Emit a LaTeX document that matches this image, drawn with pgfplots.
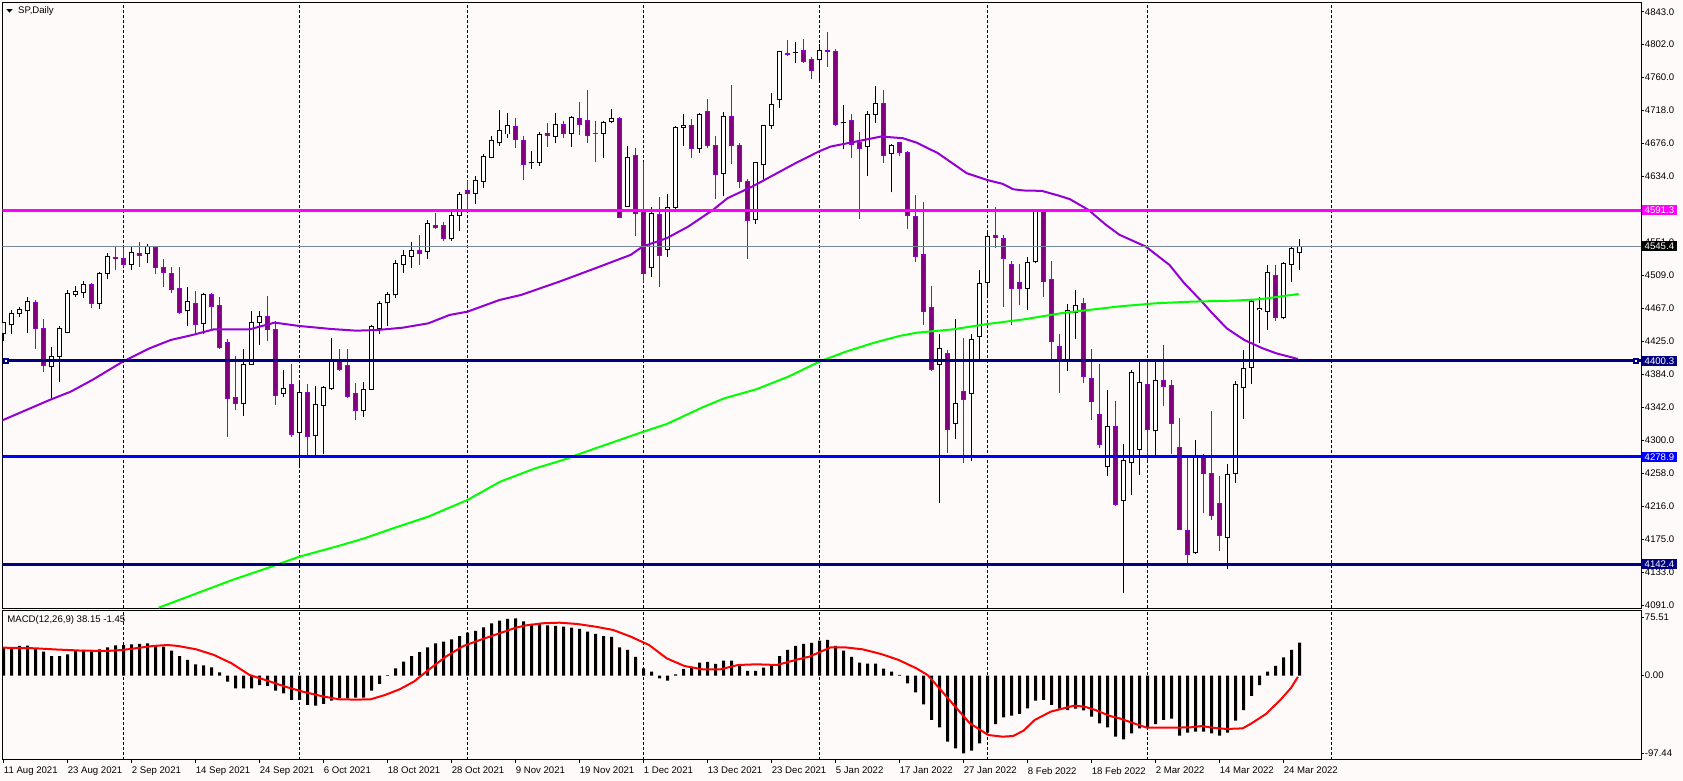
\documentclass[border=0pt]{standalone}
\usepackage{pgfplots}
\pgfplotsset{compat=1.18}
\usepackage{pgfplotstable}
\usepackage{fontspec}
\setmainfont{Liberation Sans}
\definecolor{bg}{HTML}{FFFAFA}
\definecolor{mtpurple}{HTML}{800080}
\definecolor{mtviolet}{HTML}{9400D3}
\definecolor{mtmagenta}{HTML}{FF00FF}
\definecolor{mtnavy}{HTML}{000080}
\definecolor{mtblue}{HTML}{0000FF}
\definecolor{mtgreen}{HTML}{00FF00}
\definecolor{mtgrey}{HTML}{778899}
\newcommand\tf{\fontsize{4.8}{5.5}\selectfont}

% bullish candles: index open high low close
\pgfplotstableread{
i o h l c
0 4435 4450 4426 4449
1 4446 4465 4435 4461
2 4460 4469 4456 4466
3 4464 4482 4436 4476
6 4393 4418 4352 4406
7 4406 4445 4374 4442
8 4437 4490 4436 4486
9 4484 4495 4481 4488
10 4487 4502 4480 4497
12 4473 4513 4466 4511
13 4511 4537 4504 4533
16 4523 4545 4516 4538
18 4536 4549 4525 4545
23 4464 4494 4445 4476
25 4448 4486 4435 4485
30 4347 4416 4331 4396
31 4396 4464 4396 4449
32 4449 4464 4420 4457
35 4359 4389 4354 4366
37 4310 4375 4266 4360
39 4306 4369 4280 4345
40 4344 4368 4283 4367
41 4365 4430 4364 4399
45 4337 4374 4329 4364
46 4364 4446 4364 4444
47 4442 4476 4435 4473
48 4474 4488 4444 4484
49 4484 4528 4480 4524
50 4522 4541 4512 4534
51 4533 4551 4518 4540
53 4539 4579 4529 4574
56 4555 4593 4553 4585
57 4585 4614 4565 4611
59 4612 4635 4599 4629
60 4628 4663 4620 4660
61 4658 4685 4657 4680
62 4677 4719 4673 4693
63 4688 4714 4683 4699
66 4651.5 4666 4643 4652
67 4652 4690 4647 4687
69 4685 4714 4676 4700
71 4689 4711 4671 4709
75 4689 4704 4658 4703
76 4704 4720 4702 4708
78 4596 4673 4596 4658
81 4519 4595 4507 4587
83 4542 4612 4532 4595
84 4595 4698 4589 4696
85 4696 4713 4673 4699
87 4670 4715 4664 4713
90 4638 4716 4609 4710
94 4580 4652 4574 4652
95 4649 4700 4628 4699
96 4699 4740 4694 4726
97 4732 4793 4721 4792
99 4791 4804 4778 4791.3
102 4783 4802 4753 4794
105 4702.3 4725 4669 4702.8
108 4672 4717 4635 4713
109 4713 4749 4702 4727
111 4663 4675 4614 4673
117 4396 4435 4220 4416
119 4321 4453 4302 4347
121 4359 4435 4273 4428
122 4431 4516 4402 4499
123 4500 4566 4480 4558
128 4492 4532 4465 4525
129 4526 4593 4524 4590
133 4402 4473 4387 4464
134 4462 4490 4428 4470
138 4266 4364 4254 4317
140 4224 4295 4106 4274
141 4272 4389 4231 4386
142 4288 4400 4256 4373
144 4312 4402 4281 4376
149 4157 4300 4156 4281
153 4177 4270 4136 4257
154 4258 4375 4246 4371
155 4367 4414 4327 4391
156 4392 4478 4371 4476
157 4465 4482 4423 4467
158 4463 4522 4440 4512
160 4456 4526 4453 4524
161 4523 4545 4500 4543
162 4538 4555 4516 4545.4
}\up

% bearish candles
\pgfplotstableread{
i o h l c
4 4475 4477 4416 4442
5 4442 4453 4386 4394
11 4497 4499 4468 4473
14 4532 4545 4515 4530
15 4530 4543 4520 4522
17 4537 4551 4520 4534
19 4544 4545 4511 4519
20 4519 4530 4494 4512
21 4511 4520 4486 4491
22 4492 4520 4460 4462
24 4473 4489 4435 4447
26 4485 4486 4440 4469
27 4470 4482 4416 4418
28 4424 4428 4304 4353
29 4354 4407 4338 4347
33 4457 4483 4425 4440
34 4440 4451 4345 4356
36 4370 4397 4304 4307
38 4360 4371 4277 4304
42 4399 4416 4387 4389
43 4394 4416 4353 4355
44 4359 4373 4326 4337
52 4540 4560 4522 4537
54 4572 4588 4568 4570
55 4572 4576 4552 4555
58 4616 4628 4592 4612
64 4697 4708 4670 4681
65 4680 4685 4630 4649
68 4689 4702 4672 4686
70 4700 4705 4683 4689
72 4708 4728 4687 4700
73 4705 4744 4677 4686
74 4689.2 4704 4652 4688.8
77 4708 4709 4581 4582
79 4661 4670 4559 4587
80 4592 4652 4500 4511
82 4586 4608 4494 4534
86 4699 4707 4658 4670
88 4716 4732 4670 4673
89 4673 4685 4605 4637
91 4710 4750 4650 4673
92 4673 4676 4619 4628
93 4628 4631 4530 4578
98 4790 4807 4787 4789
100 4794 4808 4778 4780
101 4783 4786 4758 4768
103 4794 4817 4773 4793
104 4792 4796 4698 4700
106 4705 4713 4658 4675
107 4677 4690 4580 4670
110 4727 4744 4651 4661
112 4677 4678 4660 4664
113 4665 4666 4567 4585
114 4584 4611 4526 4533
115 4535 4602 4446 4463
116 4468 4495 4388 4390
118 4410 4414 4284 4314
120 4362 4429 4271 4352
124 4559 4595 4543 4557
125 4556 4560 4469 4530
126 4522 4527 4446 4492
127 4500 4523 4471 4492
130 4590 4592 4482 4501
131 4503 4527 4399 4425
132 4418 4435 4360 4402
135 4473 4480 4372 4380
136 4378 4416 4325 4349
137 4333 4397 4290 4295
139 4317 4350 4216 4218
143 4371 4401 4275 4313
145 4375 4421 4343 4368
146 4369 4376 4283 4321
147 4291 4328 4186 4187
148 4186 4277 4140 4155
150 4280 4283 4207 4258
151 4258 4337 4199 4205
152 4220 4254 4159 4179
159 4509 4522 4451 4456
}\down

% MACD main (histogram)
\pgfplotstableread{
i v
0 32.7
1 32.7
2 34.3
3 34.7
4 31.6
5 27.7
6 22.7
7 22.7
8 24.7
9 28.5
10 29.7
11 29.7
12 30.4
13 32.7
14 35.1
15 35.4
16 36.2
17 36.6
18 37.4
19 34.7
20 33.5
21 28.9
22 22.7
23 18.1
24 13.1
25 11.9
26 9.6
27 3.9
28 -6.9
29 -14.6
30 -14.6
31 -14.6
32 -10.8
33 -11.9
34 -17.3
35 -20.4
36 -28.1
37 -28.1
38 -33.9
39 -34.7
40 -32.7
41 -28.9
42 -26.2
43 -26.2
44 -25.4
45 -25.4
46 -17.3
47 -9.6
48 0.5
49 8.5
50 16.2
51 22.7
52 27.3
53 32.7
54 37.4
55 39.3
56 42.0
57 45.8
58 49.7
59 51.6
60 55.9
61 60.5
62 63.6
63 65.5
64 66.3
65 62.8
66 59.7
67 59.7
68 58.2
69 57.4
70 56.6
71 55.5
72 53.9
73 50.8
74 48.2
75 45.8
76 44.7
77 32.7
78 29.7
79 21.6
80 8.5
81 4.6
82 -3.1
83 -5.8
84 1.5
85 7.7
86 9.2
87 15.0
88 15.8
89 13.5
90 17.3
91 17.3
92 11.2
93 5.4
94 5.4
95 9.2
96 12.3
97 22.7
98 29.7
99 34.3
100 36.6
101 37.8
102 40.4
103 41.2
104 34.3
105 28.9
106 21.6
107 15.0
108 13.9
109 13.9
110 8.1
111 4.6
112 0.8
113 -8.9
114 -19.3
115 -33.1
116 -51.2
117 -59.7
118 -76.3
119 -84.0
120 -89.8
121 -86.7
122 -78.2
123 -65.9
124 -55.9
125 -48.2
126 -46.2
127 -44.3
128 -37.8
129 -28.9
130 -28.1
131 -33.9
132 -38.1
133 -39.7
134 -38.1
135 -40.1
136 -47.4
137 -55.1
138 -59.7
139 -70.5
140 -73.6
141 -66.6
142 -60.9
143 -60.1
144 -55.9
145 -51.2
146 -49.7
147 -69.3
148 -65.9
149 -64.7
150 -64.7
151 -66.6
152 -69.3
153 -65.9
154 -52.0
155 -39.7
156 -23.5
157 -10.8
158 4.6
159 11.2
160 21.2
161 29.7
162 38.15
}\macd

\pgfplotsset{
  candlebar/.style 2 args={only marks, mark=*, mark size=0pt,
    mark options={draw=none, fill=none},
    error bars/.cd, y dir=plus, y explicit, error mark=none,
    error bar style={line width=#1, color=#2, line cap=butt, solid}},
}

\begin{document}
\begin{tikzpicture}
\useasboundingbox (0,0) rectangle (841.5pt,390.5pt);
\fill[bg] (0,0) rectangle (841.5pt,390.5pt);

% ---------------- main price panel ----------------
\begin{axis}[
  at={(1.25pt,86.35pt)}, anchor=south west, scale only axis,
  width=819.25pt, height=302.9pt,
  xmin=-0.125, xmax=204.6875, ymin=4086.8, ymax=4854.7,
  axis line style={line width=0.5pt, black},
  xtick=\empty,
  extra x ticks={15,37,58,80,102,123,143,166},
  extra x tick labels={},
  extra x tick style={grid=major, major tick length=0pt},
  major grid style={black, line width=0.5pt, dash pattern=on 1.5pt off 1pt},
  ytick={4843,4801.2,4759.4,4717.6,4675.8,4634,4550.4,4508.6,4466.8,4425,4383.2,4341.4,4299.6,4257.8,4216,4174.2,4132.4,4090.6},
  yticklabels={4843.0,4802.0,4760.0,4718.0,4676.0,4634.0,4551.0,4509.0,4467.0,4425.0,4384.0,4342.0,4300.0,4258.0,4216.0,4175.0,4133.0,4091.0},
  ytick pos=right, yticklabel pos=right,
  tick align=outside, major tick length=1.5pt,
  tick style={black, line width=0.5pt},
  yticklabel style={font=\tf, anchor=west, inner sep=0pt, xshift=0.25pt},
]
% wicks
\addplot[candlebar={0.5pt}{black}] table[x=i, y=l, y error plus expr=\thisrow{h}-\thisrow{l}] {\up};
\addplot[candlebar={0.5pt}{mtviolet}] table[x=i, y=l, y error plus expr=\thisrow{h}-\thisrow{l}] {\down};
% bullish bodies (hollow)
\addplot[candlebar={2.5pt}{black}] table[x=i, y expr=\thisrow{o}-0.63, y error plus expr=\thisrow{c}-\thisrow{o}+1.27] {\up};
\addplot[candlebar={1.5pt}{white}] table[x=i, y expr=\thisrow{o}+0.63, y error plus expr={max(\thisrow{c}-\thisrow{o}-1.27,0)}] {\up};
% bearish bodies
\addplot[candlebar={2.4pt}{mtviolet}] table[x=i, y expr=\thisrow{c}-0.63, y error plus expr=\thisrow{o}-\thisrow{c}+1.27] {\down};
\addplot[candlebar={1.8pt}{mtpurple}] table[x=i, y expr=\thisrow{c}+0.63, y error plus expr={max(\thisrow{o}-\thisrow{c}-1.27,0)}] {\down};

% moving averages
\addplot[mtviolet, line width=1pt] coordinates {
(-0.5,4323.5) (5.75,4350.8) (8.4,4361.4) (11.1,4376.2) (14.9,4399.4) (18.25,4416.3) (20.9,4426.9)
(23.6,4433.2) (26.3,4440.4) (30.75,4440.4) (33.9,4448.9) (37,4444.6) (41,4440.8) (44.1,4438.7)
(46.8,4439.6) (49.9,4442.5) (53.1,4448) (55.75,4458.6) (58,4462.8) (62,4477.6) (64.7,4484)
(69.5,4500.9) (74,4517.9) (78.4,4534.8) (79.9,4545.4) (82.9,4555.9) (85.6,4570.7) (88.7,4591.9)
(90.5,4606.6) (93.6,4621.4) (96.3,4636.2) (99,4651) (101.9,4665.8) (103.4,4672.1) (106.6,4678.5)
(109.7,4684.8) (112.4,4682.7) (114.1,4677.2) (116.8,4663.7) (118.6,4651) (120.4,4638.3)
(122.9,4629.9) (124.9,4624.8) (126.2,4618) (127.5,4616.4) (129.8,4615.9) (132,4609.6)
(133.3,4605.4) (135.6,4591.9) (137.8,4572.9) (139.5,4560.2) (142.8,4545.2) (145.75,4522)
(147.5,4500) (149.8,4475.5) (151.1,4460.7) (152.9,4441.7) (155.1,4426.9) (157.4,4416.3)
(159.1,4410) (161.8,4402.8)};
\addplot[mtgreen, line width=1pt] coordinates {
(19.4,4087.6) (28.6,4122.7) (33.5,4139.6) (37,4152.3) (42,4166.2) (45.1,4175.5) (48.7,4188.2)
(53.1,4203) (58,4224.1) (62.1,4247.4) (66.5,4264.3) (69.6,4273.7) (74,4289.6) (80,4310.7)
(82.9,4320.4) (87.4,4341.6) (90.1,4353) (94.1,4364.4) (98.1,4380.4) (102,4399.5) (105.3,4412.1)
(108.85,4423.5) (112,4432) (114.2,4436.2) (118.7,4440.4) (123,4447.2) (127.6,4453.1)
(132.1,4460.7) (135.6,4464.9) (139.6,4469.6) (144,4473.4) (148.5,4475.5) (153.9,4476.8)
(157,4478.5) (160.1,4482.7) (161.9,4485.2)};

% horizontal levels
\addplot[mtgrey, line width=0.5pt] coordinates {(-1,4545.4) (206,4545.4)};
\addplot[mtmagenta, line width=1.5pt] coordinates {(-1,4591.3) (206,4591.3)};
\addplot[mtnavy, line width=1.5pt] coordinates {(-1,4400.3) (206,4400.3)};
\addplot[mtblue, line width=1.5pt] coordinates {(-1,4278.9) (206,4278.9)};
\addplot[mtnavy, line width=1.5pt] coordinates {(-1,4142.4) (206,4142.4)};
% anchor squares of the 4400.3 level object
\addplot[only marks, mark=square*, mark size=1.3pt, mark options={draw=mtnavy, fill=mtnavy}] coordinates {(0.3,4400.3) (204.0,4400.3)};
\addplot[only marks, mark=square*, mark size=0.3pt, mark options={draw=white, fill=white}] coordinates {(0.3,4400.3) (204.0,4400.3)};

\coordinate (Lm) at (axis cs:204.6875,4591.3);
\coordinate (Lk) at (axis cs:204.6875,4545.4);
\coordinate (Ln) at (axis cs:204.6875,4400.3);
\coordinate (Lb) at (axis cs:204.6875,4278.9);
\coordinate (Ll) at (axis cs:204.6875,4142.4);
\end{axis}

% ---------------- MACD panel ----------------
\begin{axis}[
  at={(1.25pt,10.5pt)}, anchor=south west, scale only axis,
  width=819.25pt, height=74.85pt,
  xmin=-0.125, xmax=204.6875, ymin=-97.44, ymax=75.51,
  axis line style={line width=0.5pt, black},
  xtick={0,8,...,160},
  xticklabels={11 Aug 2021,23 Aug 2021,2 Sep 2021,14 Sep 2021,24 Sep 2021,6 Oct 2021,18 Oct 2021,28 Oct 2021,9 Nov 2021,19 Nov 2021,1 Dec 2021,13 Dec 2021,23 Dec 2021,5 Jan 2022,17 Jan 2022,27 Jan 2022,8 Feb 2022,18 Feb 2022,2 Mar 2022,14 Mar 2022,24 Mar 2022},
  xtick pos=left,
  extra x ticks={15,37,58,80,102,123,143,166},
  extra x tick labels={},
  extra x tick style={grid=major, major tick length=0pt},
  major grid style={black, line width=0.5pt, dash pattern=on 1.5pt off 1pt},
  ytick={67.1,0,-89.7},
  yticklabels={75.51,0.00,-97.44},
  ytick pos=right, yticklabel pos=right,
  tick align=outside, major tick length=1.5pt,
  tick style={black, line width=0.5pt},
  yticklabel style={font=\tf, anchor=west, inner sep=0pt, xshift=0.25pt},
  xticklabel style={font=\tf, anchor=north west, inner sep=0pt, yshift=-1.85pt},
]
\addplot[ybar, bar width=1.5pt, fill=black, draw=none] table[x=i, y=v] {\macd};
\addplot[red, line width=1pt] coordinates {
(-0.5,32.4) (4,31.6) (6.2,30.4) (9.8,28.9) (12.9,28.5) (14.9,29.7) (17.4,32.7) (18.7,34.3)
(20.5,35.4) (21.8,34.3) (24.1,30.4) (26.3,23.9) (28.5,14.3) (30.75,0.8) (33,-5.8) (35.2,-12.7)
(37.4,-18.5) (39.7,-23.5) (41.9,-27.3) (44.1,-27.7) (45.9,-27.3) (47.7,-22.3) (49.5,-15.8)
(51.3,-6.9) (53.1,6.5) (55.3,22) (57.5,34.3) (59.8,42) (62,48.9) (63.8,54.7) (65.1,57.8)
(67.4,60.5) (69.5,61.2) (71.7,59.7) (74,56.6) (76.2,52.8) (78.4,45.1) (80.7,35.4) (82.9,20)
(85.1,11.2) (87.4,7.3) (89.6,7.3) (91.8,12.3) (94.1,13.1) (96.7,12.3) (99,18.1) (100.75,22)
(103.4,32.7) (105.2,32.7) (107.4,30.4) (109.7,25) (111.9,18.1) (114.1,8.5) (115.5,0.8)
(116.8,-12.7) (118.6,-32) (120.8,-55.1) (123.1,-68.6) (124.9,-70.5) (126.2,-69.7) (127.5,-63.6)
(128.9,-51.2) (130.9,-41.6) (133.8,-34.7) (135.1,-35.8) (136.5,-39.7) (138.3,-46.6) (139.5,-49.3)
(141.3,-55.1) (142.9,-60.1) (146.2,-60.1) (148.4,-59.7) (149.8,-58.2) (151.1,-60.1) (152.9,-61.6)
(154.9,-60.9) (156,-55.1) (157.8,-44.3) (159.6,-28.1) (160.9,-14.6) (161.8,-1.45)};
\end{axis}

% level price tags on the right scale
\tikzset{tag/.style={text=white, font=\tf, anchor=west, inner sep=0pt, minimum height=5pt, minimum width=17.5pt, xshift=0.25pt}}
\node[tag, fill=mtmagenta] at (Lm) {4591.3};
\node[tag, fill=black] at (Lk) {4545.4};
\node[tag, fill=mtnavy] at (Ln) {4400.3};
\node[tag, fill=mtblue] at (Lb) {4278.9};
\node[tag, fill=mtnavy] at (Ll) {4142.4};

% panel captions
\fill[black] (3.2pt,385.9pt) -- (6.3pt,385.9pt) -- (4.75pt,384.2pt) -- cycle;
\node[font=\tf, anchor=west, inner sep=0pt] at (8.9pt,385pt) {SP,Daily};
\node[font=\tf, anchor=west, inner sep=0pt] at (3.5pt,80.5pt) {MACD(12,26,9) 38.15 -1.45};
\end{tikzpicture}
\end{document}
